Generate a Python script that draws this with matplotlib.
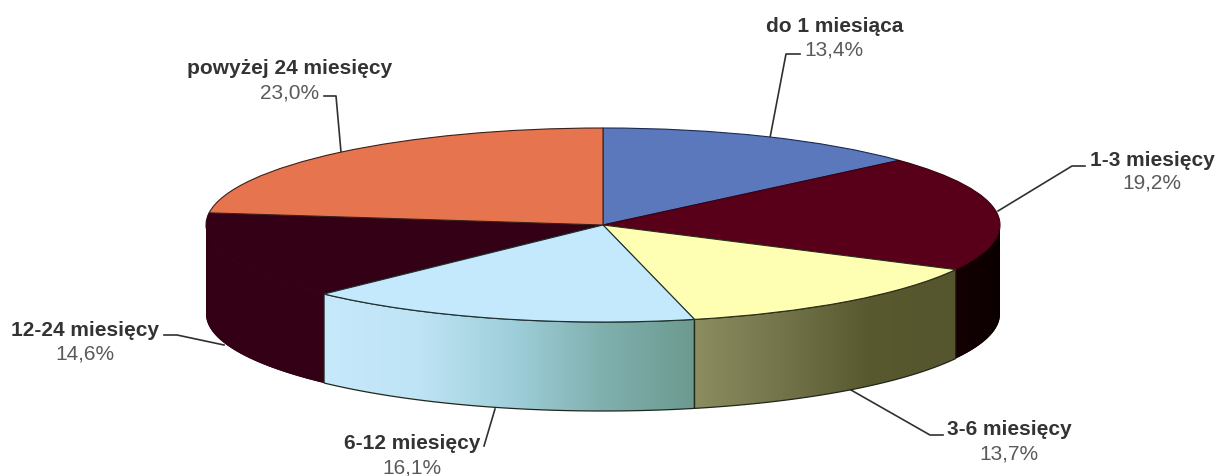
import numpy as np
import matplotlib
matplotlib.use('Agg')
import matplotlib.pyplot as plt
from matplotlib.colors import LinearSegmentedColormap
from matplotlib.patches import Polygon, Wedge
from matplotlib.transforms import Affine2D

plt.rcParams['font.family'] = ['Liberation Sans', 'DejaVu Sans']

# Slices, clockwise from 12 o'clock
categories = ['do 1 miesiąca', '1-3 miesięcy', '3-6 miesięcy', '6-12 miesięcy', '12-24 miesięcy', 'powyżej 24 miesięcy']
values = [13.4, 19.2, 13.7, 16.1, 14.6, 23.0]
percent_labels = ['13,4%', '19,2%', '13,7%', '16,1%', '14,6%', '23,0%']

top_colors = ['#5b78bd', '#58001a', '#ffffb4', '#c4e9fc', '#330016', '#e6744e']
edge_colors = ['#1a2a50', '#3a0010', '#2a3018', '#1c3030', '#330016', '#3a2018']
# Wall colours, left to right on screen
side_colors = [
    ['#3a4c78', '#3a4c78'],
    ['#140002', '#0a0000'],
    ['#8d8d62', '#74744a', '#59592f', '#55552e'],
    ['#c6e9fb', '#bfe4f5', '#a0d0dc', '#80b0ae', '#6c9a90'],
    ['#330016', '#330016'],
    ['#a0502f', '#a0502f'],
]
wall_edges = [None, None, '#20281c', '#20281c', None, None]

# Ellipse geometry in image pixels
cx, cy = 603, 226
rx, ry = 397, 97
depth = 89

# Label placement: name centre, percent centre, leader line
label_pos = [(835, 27), (1152, 161), (1009, 430), (412, 444), (85, 331), (290, 69)]
pct_pos = [(834, 50), (1152, 183), (1009, 454), (412, 468), (85, 354), (290, 93)]
leaders = [
    [(765, 165), (786, 55), (800, 55)],
    [(998, 212), (1072, 167), (1085, 167)],
    [(851, 391), (930, 436), (943, 436)],
    [(495, 410), (484, 447)],
    [(224, 346), (177, 336), (164, 336)],
    [(341, 153), (336, 97), (324, 97)],
]


def ellipse_point(angle, y_shift=0.0):
    # angle counted clockwise from the top, in degrees
    a = np.radians(angle)
    return cx + rx * np.sin(a), cy - ry * np.cos(a) + y_shift


fig = plt.figure(figsize=(12.21, 4.77), dpi=100)
ax = fig.add_axes([0, 0, 1, 1])

bounds = np.concatenate([[0], np.cumsum(values) / np.sum(values) * 360])

# Side wall, only the part facing the viewer (90..270 degrees)
for i in range(len(values)):
    start = max(bounds[i], 90)
    end = min(bounds[i + 1], 270)
    if start >= end:
        continue
    angles = np.linspace(start, end, 80)
    xs, ys = ellipse_point(angles)
    outline = np.vstack([np.column_stack([xs, ys]), np.column_stack([xs[::-1], ys[::-1] + depth])])
    # solid underlay so the clipped gradient leaves no light seam
    ax.add_patch(Polygon(outline, closed=True, facecolor=side_colors[i][0], edgecolor='none', zorder=1.5))
    if wall_edges[i]:
        ax.add_patch(Polygon(outline, closed=True, facecolor='none', edgecolor=wall_edges[i], lw=0.9, zorder=3))
    cmap = LinearSegmentedColormap.from_list('side%d' % i, side_colors[i])
    grad = np.linspace(0, 1, 256)[None, :]
    im = ax.imshow(grad, cmap=cmap, extent=[xs.min(), xs.max(), ys.max() + depth, ys.min()], aspect='auto', zorder=2)
    im.set_clip_path(Polygon(outline, closed=True, transform=ax.transData))

# Top face
top_trans = Affine2D().scale(rx, -ry).translate(cx, cy) + ax.transData
draw_order = [4, 0, 1, 2, 3, 5]
for i in draw_order:
    wedge = Wedge((0, 0), 1, 90 - bounds[i + 1], 90 - bounds[i], facecolor=top_colors[i],
                  edgecolor=edge_colors[i], lw=0.8, transform=top_trans, zorder=4)
    ax.add_patch(wedge)

for line in leaders:
    pts = np.array(line)
    ax.plot(pts[:, 0], pts[:, 1], color='#303030', lw=1.2, zorder=1)

for name, pct, p1, p2 in zip(categories, percent_labels, label_pos, pct_pos):
    ax.text(p1[0], p1[1], name, ha='center', va='center', fontsize=15, fontweight='bold', color='#333333')
    ax.text(p2[0], p2[1], pct, ha='center', va='center', fontsize=15, color='#5a5a5a')

ax.set_xlim(0, 1221)
ax.set_ylim(477, 0)
ax.axis('off')

fig.savefig('out.png', dpi=100)
